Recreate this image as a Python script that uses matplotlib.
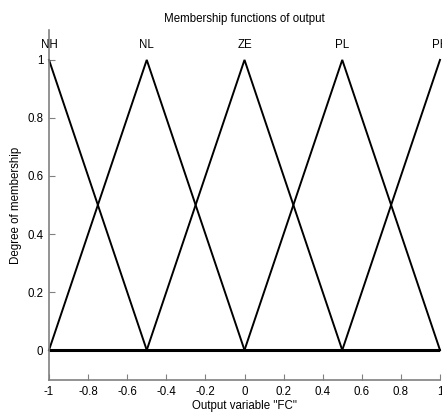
import numpy as np
import matplotlib
matplotlib.use("Agg")
import matplotlib.pyplot as plt

plt.rcParams['font.family'] = ['Liberation Sans', 'DejaVu Sans']
plt.rcParams['axes.unicode_minus'] = False

mf_names = ["NH", "NL", "ZE", "PL", "PH"]
mf_left = [-1.5, -1.0, -0.5, 0.0, 0.5]
mf_peak = [-1.0, -0.5, 0.0, 0.5, 1.0]
mf_right = [-0.5, 0.0, 0.5, 1.0, 1.5]
x_ticks = [-1, -0.8, -0.6, -0.4, -0.2, 0, 0.2, 0.4, 0.6, 0.8, 1]
x_ticklabels = ["-1", "-0.8", "-0.6", "-0.4", "-0.2", "0", "0.2", "0.4", "0.6", "0.8", "1"]
y_ticks = [0, 0.2, 0.4, 0.6, 0.8, 1]
y_ticklabels = ["0", "0.2", "0.4", "0.6", "0.8", "1"]

FS = 8.3
fig = plt.figure(figsize=(4.42, 4.19), dpi=100)
ax = fig.add_axes([49/442, 1-380/419, 391/442, 350/419])

x = np.linspace(-1, 1, 2001)
for name, a, b, c in zip(mf_names, mf_left, mf_peak, mf_right):
    y = np.interp(x, [a, b, c], [0, 1, 0])
    ax.plot(x, y, color='black', lw=1.4, clip_on=False, solid_joinstyle='miter')
    ax.text(b, 1.05, name, ha='center', va='center', fontsize=FS, clip_on=False)
ax.plot([-1, 1], [0, 0], color='black', lw=2.2, solid_capstyle='butt')

ax.set_xlim(-1, 1)
ax.set_ylim(-0.103, 1.103)
ax.set_xticks(x_ticks)
ax.set_xticklabels(x_ticklabels)
ax.set_yticks(y_ticks)
ax.set_yticklabels(y_ticklabels)
ax.tick_params(direction='in', length=4, color='#808080', labelsize=FS, pad=4)
for s in ['top', 'right']:
    ax.spines[s].set_visible(False)
for s in ['left', 'bottom']:
    ax.spines[s].set_color('#808080')
    ax.spines[s].set_linewidth(1.2)
ax.set_title("Membership functions of output", fontsize=FS, pad=6)
ax.set_xlabel('Output variable "FC"', fontsize=FS, labelpad=2)
ax.set_ylabel("Degree of membership", fontsize=FS, labelpad=4)

fig.savefig("out.png", dpi=100)
